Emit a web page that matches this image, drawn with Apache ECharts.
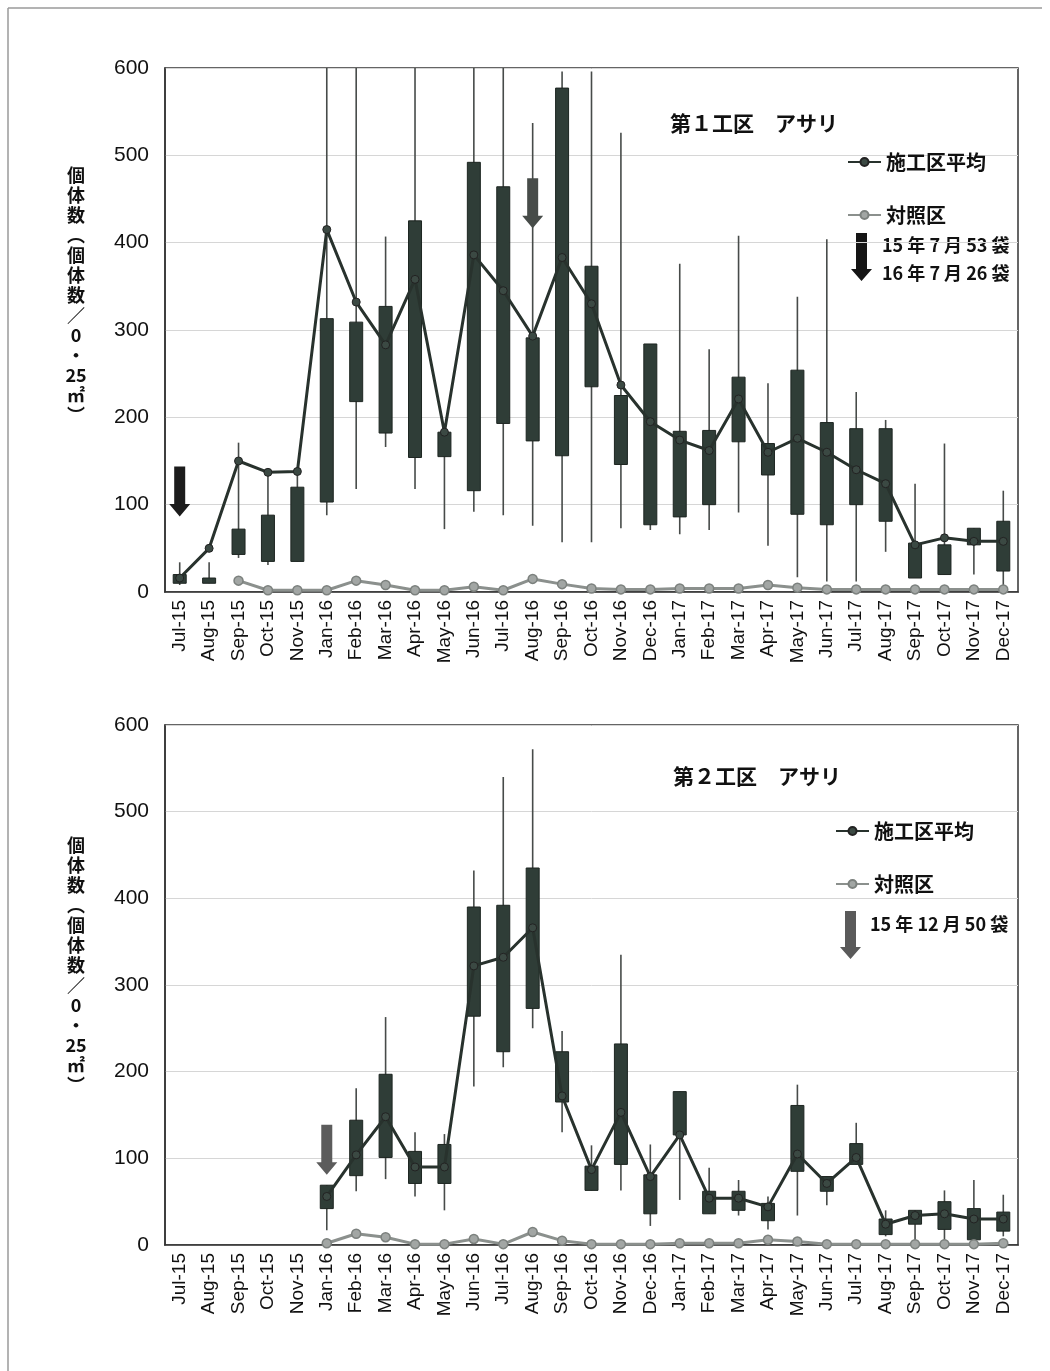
<!DOCTYPE html>
<html>
<head>
<meta charset="utf-8">
<script src="https://cdn.jsdelivr.net/npm/echarts@6/dist/echarts.min.js"></script>
<style>
  html, body { margin: 0; padding: 0; background: #fff; }
  #chart { width: 1050px; height: 1371px; }
</style>
</head>
<body>
<div id="chart"></div>
<script>
// Survey months (Dec-15 was not sampled)
const months = ['Jul-15','Aug-15','Sep-15','Oct-15','Nov-15','Jan-16','Feb-16','Mar-16','Apr-16','May-16',
  'Jun-16','Jul-16','Aug-16','Sep-16','Oct-16','Nov-16','Dec-16','Jan-17','Feb-17','Mar-17','Apr-17',
  'May-17','Jun-17','Jul-17','Aug-17','Sep-17','Oct-17','Nov-17','Dec-17'];
const yTicks = [0, 100, 200, 300, 400, 500, 600];

// 第1工区: treated-area mean, box (lower/upper), whisker (min/max), control
const site1Mean = [16, 50, 150, 137, 138, 415, 332, 283, 358, 183, 386, 345, 293, 383, 330, 237, 195, 174, 162, 221, 160, 176, 160, 140, 124, 54, 62, 58, 58];
const site1BoxLow = [10, 10, 43, 35, 35, 103, 218, 182, 154, 155, 116, 193, 173, 156, 235, 146, 77, 86, 100, 172, 134, 89, 77, 100, 81, 16, 20, 54, 24];
const site1BoxHigh = [20, 16, 72, 88, 120, 313, 309, 327, 425, 183, 492, 464, 291, 577, 373, 225, 284, 184, 185, 246, 170, 254, 194, 187, 187, 56, 54, 73, 81];
const site1Min = [8, 10, 39, 31, 35, 88, 118, 166, 118, 72, 92, 88, 76, 57, 57, 73, 71, 66, 71, 91, 53, 17, 12, 12, 46, 16, 20, 20, 6];
const site1Max = [34, 34, 171, 135, 136, 650, 650, 407, 620, 183, 650, 650, 537, 596, 596, 526, 284, 376, 278, 408, 239, 338, 404, 229, 197, 124, 170, 73, 116];
const site1Control = ['-', '-', 13, 2, 2, 2, 13, 8, 2, 2, 6, 2, 15, 9, 4, 3, 3, 4, 4, 4, 8, 5, 3, 3, 3, 3, 3, 3, 3];

// 第2工区 (bags placed Dec-15, survey starts Jan-16)
const site2Mean = ['-', '-', '-', '-', '-', 56, 104, 148, 90, 90, 322, 332, 366, 172, 87, 153, 79, 127, 54, 54, 44, 105, 71, 101, 24, 34, 36, 30, 30];
const site2BoxLow = [null, null, null, null, null, 42, 80, 101, 71, 71, 264, 223, 273, 165, 63, 93, 36, 127, 36, 40, 28, 85, 62, 93, 12, 24, 18, 6, 16];
const site2BoxHigh = [null, null, null, null, null, 69, 144, 197, 108, 116, 390, 392, 435, 223, 91, 232, 81, 177, 62, 62, 48, 161, 79, 117, 30, 40, 50, 42, 38];
const site2Min = [null, null, null, null, null, 17, 62, 76, 56, 40, 183, 205, 250, 130, 63, 63, 22, 52, 36, 34, 18, 34, 46, 93, 10, 2, 4, 6, 10];
const site2Max = [null, null, null, null, null, 69, 181, 263, 130, 128, 432, 540, 572, 247, 115, 335, 116, 177, 89, 75, 56, 185, 79, 141, 40, 40, 63, 75, 58];
const site2Control = ['-', '-', '-', '-', '-', 2, 13, 9, 1, 1, 7, 1, 15, 5, 1, 1, 1, 2, 2, 2, 6, 4, 1, 1, 1, 1, 1, 1, 2];

// Bag placement marks: [month, value at arrow centre]
const site1Placements = [['Jul-15', 115], ['Aug-16', 445]];
const site2Placements = [['Jan-16', 110]];

const ARROW = 'path://M5,0 H16 V36 H21 L10.5,48 L0,36 H5 Z';
const CJK = '"Noto Sans CJK JP", "Noto Sans", sans-serif';
const LATIN = '"Liberation Sans", Arial, sans-serif';

function arrowPoints(x, y) {
  return [[x + 5, y], [x + 16, y], [x + 16, y + 36], [x + 21, y + 36], [x + 10.5, y + 48], [x, y + 36], [x + 5, y + 36]];
}

function boxData(lo, q1, q3, hi) {
  const out = [];
  months.forEach((m, i) => {
    if (q1[i] != null) out.push([i, lo[i], q1[i], q3[i], hi[i]]);
  });
  return out;
}

function renderBox(params, api) {
  const x = api.value(0);
  const pMin = api.coord([x, api.value(1)]);
  const pLow = api.coord([x, api.value(2)]);
  const pHigh = api.coord([x, api.value(3)]);
  const pMax = api.coord([x, api.value(4)]);
  const w = 13;
  return {
    type: 'group',
    children: [
      { type: 'line', shape: { x1: pMax[0], y1: pMax[1], x2: pMin[0], y2: pMin[1] },
        style: { stroke: '#474b49', lineWidth: 1.6 } },
      { type: 'rect', shape: { x: pHigh[0] - w / 2, y: pHigh[1], width: w, height: Math.max(pLow[1] - pHigh[1], 3) },
        style: { fill: '#2f3d37', stroke: '#1d2521', lineWidth: 1 } }
    ]
  };
}

function xAxisFor(gridIndex) {
  return {
    type: 'category', gridIndex, data: months, boundaryGap: true,
    axisLine: { lineStyle: { color: '#333', width: 1.5 } },
    axisTick: { show: false },
    axisLabel: { rotate: 90, fontSize: 19, color: '#111', fontFamily: LATIN, margin: 8, interval: 0 }
  };
}
function yAxisFor(gridIndex) {
  return {
    type: 'value', gridIndex, min: yTicks[0], max: yTicks[yTicks.length - 1], interval: 100,
    axisLine: { show: true, lineStyle: { color: '#333', width: 1.5 } },
    axisTick: { show: false },
    axisLabel: { fontSize: 21, color: '#111', fontFamily: LATIN, margin: 16 },
    splitLine: { lineStyle: { color: '#d6d6d6', width: 1 } }
  };
}

function placementMarks(list, color) {
  return {
    symbol: ARROW, symbolSize: [21, 50], silent: true, animation: false,
    label: { show: false },
    itemStyle: { color },
    data: list.map(p => ({ coord: [p[0], p[1]] }))
  };
}

const meanStyle = {
  type: 'line', symbol: 'circle', symbolSize: 8, z: 5,
  lineStyle: { color: '#28322d', width: 3 },
  itemStyle: { color: '#3b4943', borderColor: '#222', borderWidth: 1 }
};
const controlStyle = {
  type: 'line', symbol: 'circle', symbolSize: 9, z: 6,
  lineStyle: { color: '#8b908d', width: 3 },
  itemStyle: { color: '#a2a6a4', borderColor: '#7c817e', borderWidth: 1.5 }
};

const yName = '個\n体\n数\n︵\n個\n体\n数\n／\n0\n・\n25\n㎡\n︶';

const legendText = { fontSize: 20, fontWeight: 'bold', color: '#111', fontFamily: CJK, lineHeight: 20 };

const option = {
  animation: false,
  backgroundColor: '#fff',
  grid: [
    { left: 165, top: 68, width: 853, height: 524, show: true, borderColor: '#333', borderWidth: 1.5, backgroundColor: 'transparent' },
    { left: 165, top: 725, width: 853, height: 520, show: true, borderColor: '#333', borderWidth: 1.5, backgroundColor: 'transparent' }
  ],
  title: [
    { text: '第１工区　アサリ', left: 665, top: 108,
      textStyle: { fontSize: 21, fontWeight: 'bold', color: '#111', fontFamily: CJK } },
    { text: '第２工区　アサリ', left: 668, top: 761,
      textStyle: { fontSize: 21, fontWeight: 'bold', color: '#111', fontFamily: CJK } }
  ],
  legend: [
    { orient: 'vertical', left: 842, top: 147, itemWidth: 33, itemHeight: 10, itemGap: 33,
      data: ['施工区平均', '対照区'], textStyle: legendText, selectedMode: false },
    { orient: 'vertical', left: 830, top: 816, itemWidth: 33, itemHeight: 10, itemGap: 33,
      data: ['施工区平均', '対照区'], textStyle: legendText, selectedMode: false }
  ],
  xAxis: [xAxisFor(0), xAxisFor(1)],
  yAxis: [yAxisFor(0), yAxisFor(1)],
  series: [
    { type: 'custom', name: 'range1', xAxisIndex: 0, yAxisIndex: 0, clip: true, z: 3,
      renderItem: renderBox, encode: { x: 0, y: [1, 2, 3, 4] },
      data: boxData(site1Min, site1BoxLow, site1BoxHigh, site1Max) },
    Object.assign({}, meanStyle, { name: '施工区平均', xAxisIndex: 0, yAxisIndex: 0, data: site1Mean,
      markPoint: placementMarks([site1Placements[0]], '#1c1c1c') }),
    Object.assign({}, controlStyle, { name: '対照区', xAxisIndex: 0, yAxisIndex: 0, data: site1Control,
      markPoint: placementMarks([site1Placements[1]], '#474c49') }),

    { type: 'custom', name: 'range2', xAxisIndex: 1, yAxisIndex: 1, clip: true, z: 3,
      renderItem: renderBox, encode: { x: 0, y: [1, 2, 3, 4] },
      data: boxData(site2Min, site2BoxLow, site2BoxHigh, site2Max) },
    Object.assign({}, meanStyle, { name: '施工区平均', xAxisIndex: 1, yAxisIndex: 1, data: site2Mean,
      markPoint: placementMarks(site2Placements, '#5c5c5c') }),
    Object.assign({}, controlStyle, { name: '対照区', xAxisIndex: 1, yAxisIndex: 1, data: site2Control })
  ],
  graphic: [
    // outer frame
    { type: 'line', shape: { x1: 8, y1: 8, x2: 1042, y2: 8 }, style: { stroke: '#9a9a9a', lineWidth: 1.5 } },
    { type: 'line', shape: { x1: 8, y1: 8, x2: 8, y2: 1371 }, style: { stroke: '#9a9a9a', lineWidth: 1.5 } },
    // vertical axis titles
    { type: 'text', x: 76, y: 165, style: { text: yName, fontSize: 18, fontWeight: 'bold', lineHeight: 20,
      fill: '#111', fontFamily: CJK, align: 'center' } },
    { type: 'text', x: 76, y: 835, style: { text: yName, fontSize: 18, fontWeight: 'bold', lineHeight: 20,
      fill: '#111', fontFamily: CJK, align: 'center' } },
    // bag-placement notes
    { type: 'polygon', shape: { points: arrowPoints(851, 233) }, style: { fill: '#151515' } },
    { type: 'text', x: 882, y: 236, style: { text: '15 年 7 月 53 袋', fontSize: 18, fontWeight: 'bold',
      fill: '#111', fontFamily: CJK } },
    { type: 'text', x: 882, y: 264, style: { text: '16 年 7 月 26 袋', fontSize: 18, fontWeight: 'bold',
      fill: '#111', fontFamily: CJK } },
    { type: 'polygon', shape: { points: arrowPoints(840, 911) }, style: { fill: '#5a5a5a' } },
    { type: 'text', x: 870, y: 915, style: { text: '15 年 12 月 50 袋', fontSize: 18, fontWeight: 'bold',
      fill: '#111', fontFamily: CJK } }
  ]
};

const chart = echarts.init(document.getElementById('chart'), null, { renderer: 'canvas' });
chart.setOption(option);
</script>
</body>
</html>
